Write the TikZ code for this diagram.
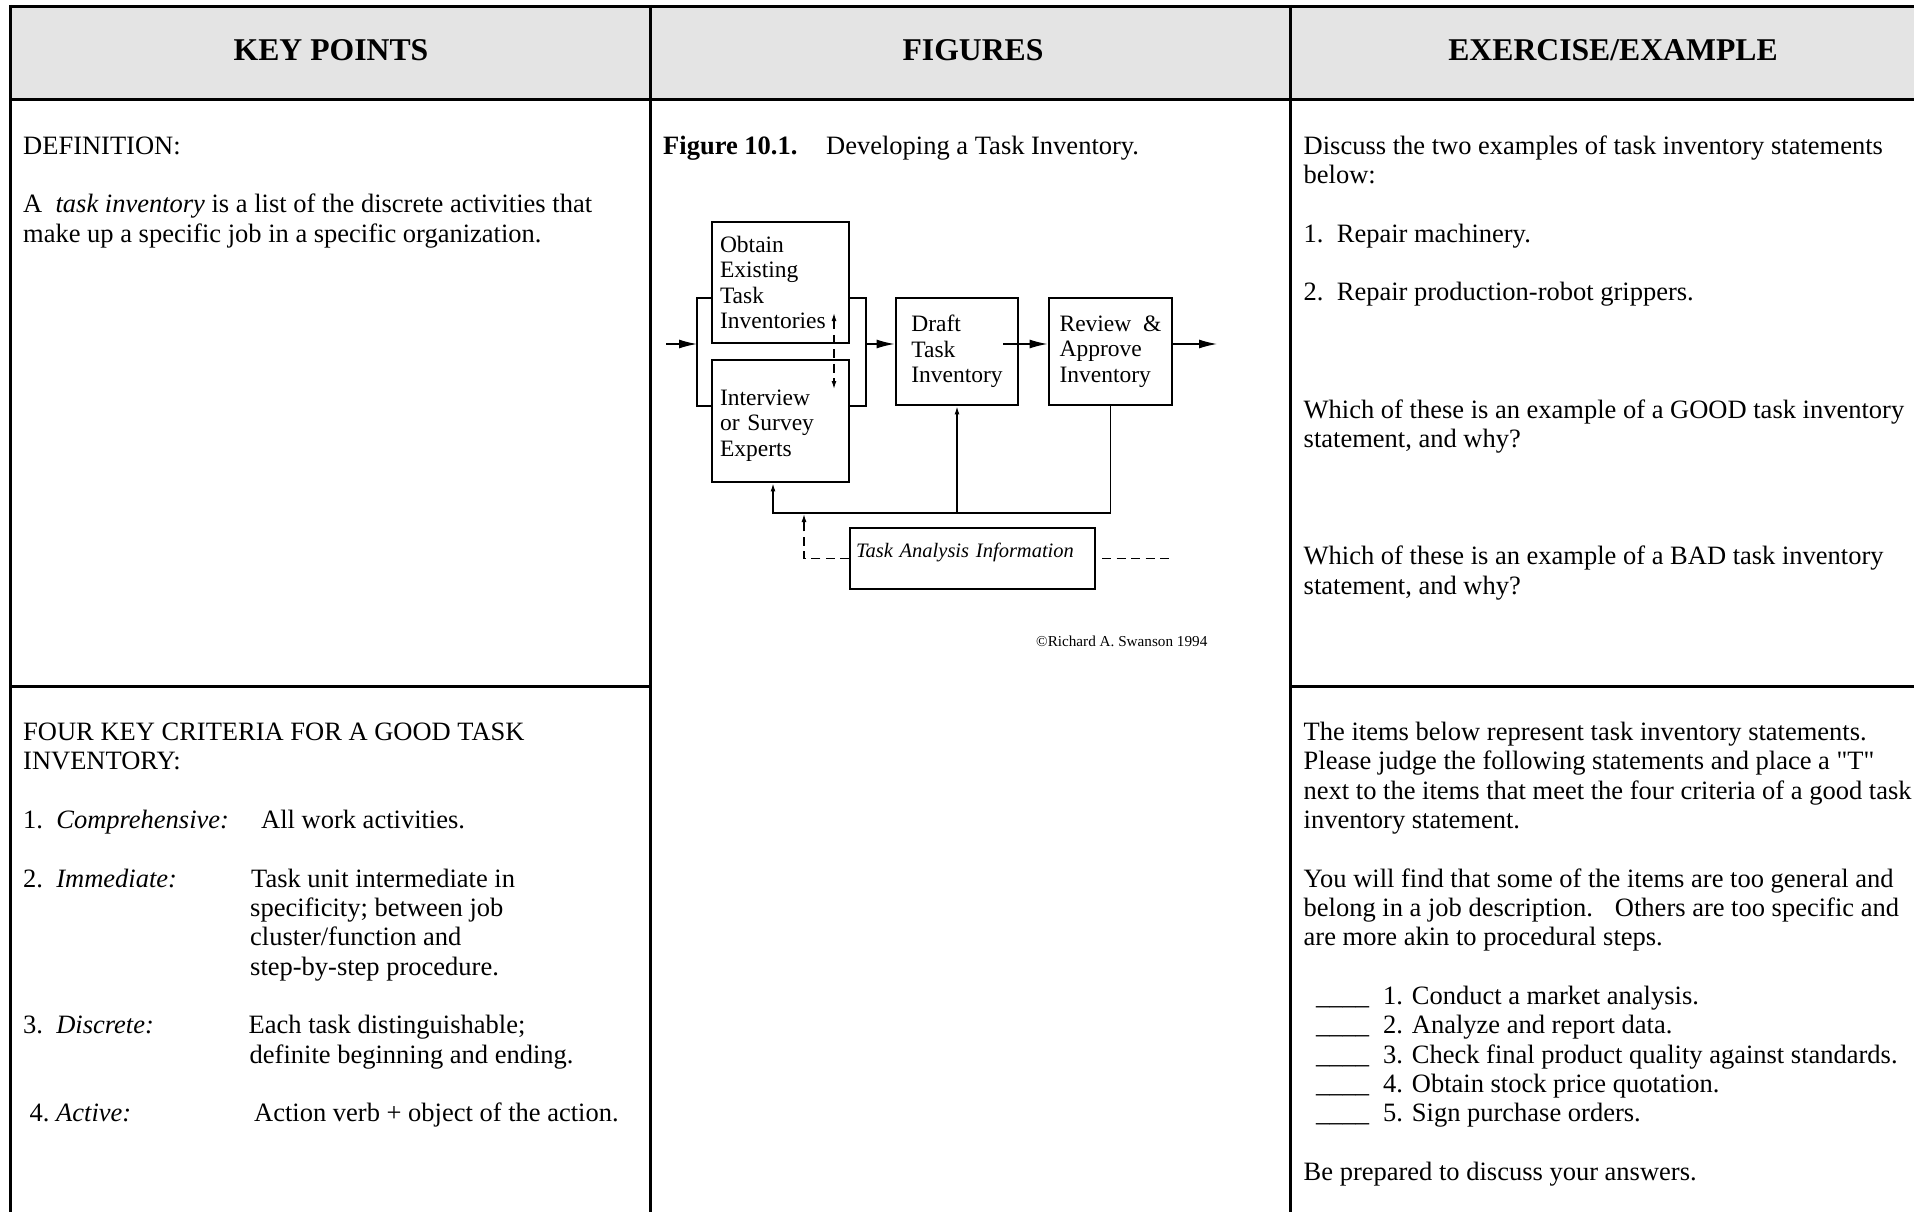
\documentclass[tikz,border=0pt]{standalone}
\usepackage{fontspec}
\setmainfont{Liberation Serif}
\newfontfamily\qfont{Liberation Serif}[Ligatures=TeXOff]
\usetikzlibrary{arrows.meta}
\definecolor{hdrgray}{HTML}{E4E4E4}
\tikzset{
  tbl/.style={line width=3pt},
  hdr/.style={anchor=base, inner sep=0pt, font=\fontsize{31.7}{36}\selectfont\bfseries},
  txt/.style={anchor=base west, inner sep=0pt, font=\fontsize{26.5}{29.4}\selectfont},
  proc/.style={draw, line width=2.9pt, rectangle, inner sep=0pt, align=left, font=\fontsize{23.5}{25.5}\selectfont},
  tabox/.style={draw, line width=1.3pt, rectangle, inner xsep=6pt, inner ysep=0pt, align=left, font=\fontsize{20.5}{24}\selectfont\itshape},
  conn/.style={line width=1.3pt},
  bigarr/.style={line width=1.3pt, -{Latex[length=18pt,width=9pt]}},
  smallarr/.style={line width=1.3pt, -{Latex[length=8pt,width=5pt]}},
  dsh/.style={line width=1.3pt, dash pattern=on 9pt off 5.5pt},
  copyr/.style={anchor=base west, inner sep=0pt, font=\fontsize{15.2}{18}\selectfont}
}
\begin{document}
\begin{tikzpicture}[x=1pt,y=-1pt]
\useasboundingbox (0,0) rectangle (1919,1212);
% ---------- table ----------
\fill[hdrgray] (10.5,6.5) rectangle (1914,99.5);
\draw[tbl] (9,6.5) -- (1914,6.5);
\draw[tbl] (9,99.5) -- (1914,99.5);
\draw[tbl] (10.5,5) -- (10.5,1212);
\draw[tbl] (650.5,5) -- (650.5,1212);
\draw[tbl] (1290.5,5) -- (1290.5,1212);
\draw[tbl] (9,686) -- (650.5,686);
\draw[tbl] (1290.5,686) -- (1914,686);
% ---------- headers ----------
\node[hdr] (h1) at (331,61) {KEY POINTS};
\node[hdr] (h2) at (973,61) {FIGURES};
\node[hdr] (h3) at (1613,61) {EXERCISE/EXAMPLE};
% ---------- column 1 ----------
\node[txt] (d1) at (23,154) {DEFINITION:};
\node[txt] (d2) at (23,212.7) {A\ \ \textit{task inventory} is a list of the discrete activities that};
\node[txt] (d3) at (23,242) {make up a specific job in a specific organization.};
\node[txt] (k0) at (23,740.6) {FOUR KEY CRITERIA FOR A GOOD TASK};
\node[txt] (k0b) at (23,769.9) {INVENTORY:};
\node[txt] (k1) at (23,828.6) {\makebox[238pt][l]{1.\ \ \textit{Comprehensive:}}All work activities.};
\node[txt] (k2) at (23,887.3) {\makebox[228pt][l]{2.\ \ \textit{Immediate:}}Task unit intermediate in};
\node[txt] (k2b) at (250,916.6) {specificity; between job};
\node[txt] (k2c) at (250,945.9) {cluster/function and};
\node[txt] (k2d) at (250,975.2) {step-by-step procedure.};
\node[txt] (k3) at (23,1033.9) {\makebox[225.5pt][l]{3.\ \ \textit{Discrete:}}Each task distinguishable;};
\node[txt] (k3b) at (249.5,1063.2) {definite beginning and ending.};
\node[txt] (k4) at (29.5,1121.9) {\makebox[224.5pt][l]{4.\ \textit{Active:}}Action verb + object of the action.};
% ---------- column 3 ----------
\node[txt] (e1) at (1303.5,154) {Discuss the two examples of task inventory statements};
\node[txt] (e2) at (1303.5,183.3) {below:};
\node[txt] (e3) at (1303.5,242) {1.\ \ Repair machinery.};
\node[txt] (e4) at (1303.5,300.7) {2.\ \ Repair production-robot grippers.};
\node[txt] (e5) at (1303.5,418) {Which of these is an example of a GOOD task inventory};
\node[txt] (e6) at (1303.5,447.3) {statement, and why?};
\node[txt] (e7) at (1303.5,564.6) {Which of these is an example of a BAD task inventory};
\node[txt] (e8) at (1303.5,594) {statement, and why?};
\node[txt] (f1) at (1303.5,740.6) {The items below represent task inventory statements.};
\node[txt] (f2) at (1303.5,769.9) {Please judge the following statements and place a {\qfont "T"}};
\node[txt] (f3) at (1303.5,799.3) {next to the items that meet the four criteria of a good task};
\node[txt] (f4) at (1303.5,828.6) {inventory statement.};
\node[txt] (f5) at (1303.5,887.3) {You will find that some of the items are too general and};
\node[txt] (f6) at (1303.5,916.6) {belong in a job description.\hspace{22pt}Others are too specific and};
\node[txt] (f7) at (1303.5,945.9) {are more akin to procedural steps.};
\node[txt] (g1) at (1316,1004.6) {\makebox[67pt][l]{\_\_\_\_}1. Conduct a market analysis.};
\node[txt] (g2) at (1316,1033.9) {\makebox[67pt][l]{\_\_\_\_}2. Analyze and report data.};
\node[txt] (g3) at (1316,1063.2) {\makebox[67pt][l]{\_\_\_\_}3. Check final product quality against standards.};
\node[txt] (g4) at (1316,1092.6) {\makebox[67pt][l]{\_\_\_\_}4. Obtain stock price quotation.};
\node[txt] (g5) at (1316,1121.9) {\makebox[67pt][l]{\_\_\_\_}5. Sign purchase orders.};
\node[txt] (g6) at (1303.5,1180.6) {Be prepared to discuss your answers.};
% ---------- figure ----------
\node[txt] (cap1) at (663,154) {\textbf{Figure 10.1.}};
\node[txt] (cap2) at (826,154) {Developing a Task Inventory.};
\node[proc, minimum width=137pt, minimum height=121pt, text width=121pt] (obt) at (780.5,282.5) {Obtain\\Existing\\Task\\Inventories};
\node[proc, minimum width=137pt, minimum height=122pt, text width=121pt, text height=24pt] (itv) at (780.5,421) {Interview\\or Survey\\Experts};
\node[proc, minimum width=122pt, minimum height=107pt] (drf) at (957,351.5) {Draft\\Task\\Inventory};
\node[proc, minimum width=123pt, minimum height=107pt] (rev) at (1110.5,351.5) {Review\ \ \&\\Approve\\Inventory};
\node[tabox, minimum width=245pt, minimum height=61pt, text width=233pt, text height=15pt, text depth=17pt] (tai) at (972.5,558.5) {Task Analysis Information};
\node[copyr] (copy) at (1036,646) {\textcopyright Richard A. Swanson 1994};
% coordinates
\coordinate (inp) at (666,344);
\coordinate (bl) at (697,344);
\coordinate (br) at (866,344);
\coordinate (dstart) at (1003,344);
\coordinate (outp) at (1217,344);
\coordinate (fbl) at (773,513);
\coordinate (dtop) at (834,313);
\coordinate (dbot) at (834,389);
\coordinate (dtip) at (804,514);
\coordinate (dend) at (1170,558.5);
% connectors
\draw[bigarr] (inp) -- (bl);
\draw[conn] (obt.west |- 0,298) -| (bl) |- (itv.west |- 0,406);
\draw[conn] (obt.east |- 0,298) -| (br) |- (itv.east |- 0,406);
\draw[bigarr] (br) -- (drf.west |- br);
\draw[bigarr] (dstart) -- (rev.west |- br);
\draw[bigarr] (rev.east |- br) -- (outp);
\draw[dsh, {Latex[length=8pt,width=5pt]}-{Latex[length=8pt,width=5pt]}] (dtop) -- (dbot);
\draw[smallarr] (rev.south) |- (fbl) -- (itv.south -| fbl);
\draw[smallarr] (drf.south |- fbl) -- (drf.south);
\draw[dsh, -{Latex[length=8pt,width=5pt]}] (tai.west) -| (dtip);
\draw[dsh] (tai.east) ++(6.5,0) -- (dend);
\end{tikzpicture}
\end{document}
